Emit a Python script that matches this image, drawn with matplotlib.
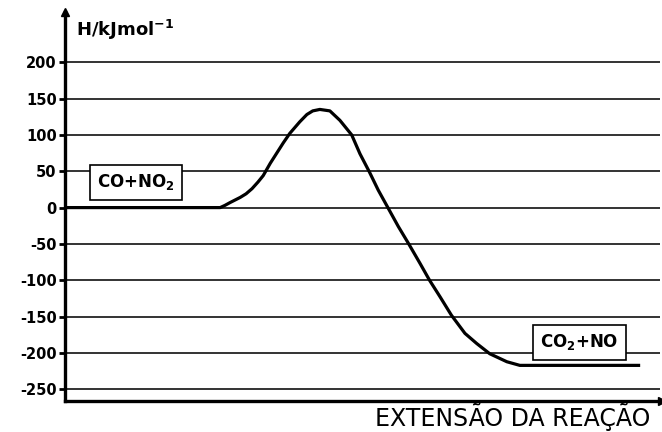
"""
Energy profile for CO + NO2 -> CO2 + NO, enthalpy along the reaction path.
"""

import matplotlib
matplotlib.use("Agg")
import matplotlib.pyplot as plt

# reaction coordinate (arbitrary units) and enthalpy
extent = [0.0, 26.3, 27.1, 28.0, 29.7, 30.7, 31.7, 32.7, 33.6, 34.8, 35.9,
          37.0, 38.1, 39.8, 41.0, 42.0, 43.2, 44.9, 46.6, 48.6, 50.0, 51.6,
          53.1, 54.8, 56.5, 58.2, 60.2, 61.8, 63.6, 65.5, 67.8, 69.8, 72.0,
          74.9, 77.1, 97.5]
enthalpy = [0, 0, 3, 7, 14, 19, 26, 35, 44, 61, 75,
            89, 102, 118, 128, 133, 135, 133, 120, 100, 74, 49,
            24, -1, -26, -49, -77, -100, -123, -148, -173, -187, -201,
            -212, -217, -217]

y_ticks = [200, 150, 100, 50, 0, -50, -100, -150, -200, -250]
reactants = r"CO+NO$_\mathbf{2}$"
products = r"CO$_\mathbf{2}$+NO"

plt.rcParams['font.family'] = ['DejaVu Sans']
plt.rcParams['mathtext.fontset'] = 'dejavusans'

fig = plt.figure(figsize=(6.62, 4.32), dpi=100)
ax = fig.add_axes([65 / 662, 1 - 401 / 432, 1 - 65 / 662, (401 - 12) / 432])

ax.set_xlim(0, 101.2)
ax.set_ylim(-266, 269)

# horizontal grid lines
ax.hlines(y_ticks, 0, 100.8, color='#111111', lw=1.2, zorder=1)

# enthalpy curve
ax.plot(extent, enthalpy, color='black', lw=2.3, solid_capstyle='butt',
        solid_joinstyle='round', zorder=3)

# spines and arrows
for side in ['top', 'right']:
    ax.spines[side].set_visible(False)
ax.spines['left'].set_linewidth(2.4)
ax.spines['bottom'].set_linewidth(2.4)
ax.plot(0, 1, '^k', markersize=6, transform=ax.transAxes, clip_on=False)
ax.plot(1, 0, '>k', markersize=6, transform=ax.transAxes, clip_on=False)

ax.set_xticks([])
ax.set_yticks(y_ticks)
ax.set_yticklabels([str(t) for t in y_ticks], fontweight='bold', fontsize=10.5)
ax.tick_params(axis='y', length=4, width=2, pad=2)

# axis labels
ax.text(0.018, 0.985, r"H/kJmol$^{\mathbf{-1}}$", transform=ax.transAxes,
        fontsize=13, fontweight='bold', va='top', ha='left')
fig.text(650 / 662, 1 - 417 / 432, "EXTENSÃO DA REAÇÃO", fontsize=17,
         ha='right', va='center')

# species boxes
box = dict(boxstyle='square,pad=0.45', fc='white', ec='black', lw=1.2)
ax.text(12.0, 35, reactants, fontsize=12, fontweight='bold',
        ha='center', va='center', bbox=box, zorder=4)
ax.text(87.2, -185, products, fontsize=12, fontweight='bold',
        ha='center', va='center', bbox=box, zorder=4)

fig.savefig("out.png", dpi=100)
